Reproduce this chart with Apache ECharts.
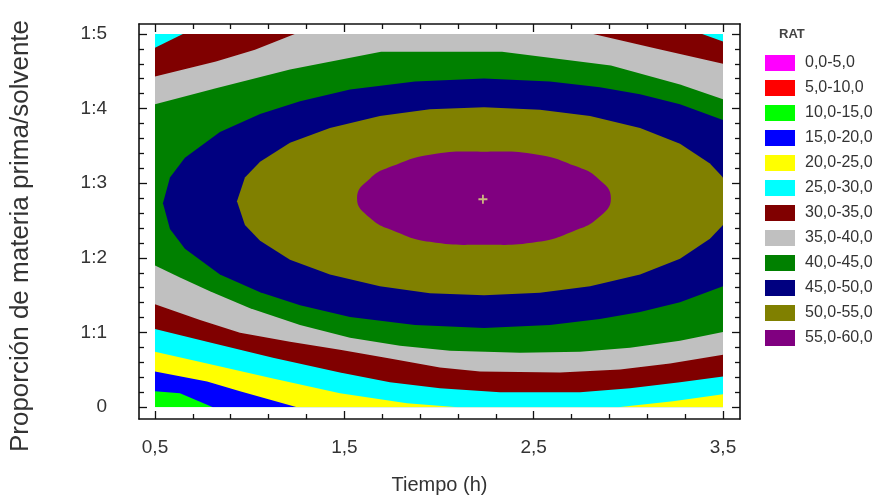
<!DOCTYPE html>
<html>
<head>
<meta charset="utf-8">
<script src="https://cdn.jsdelivr.net/npm/echarts@6/dist/echarts.min.js"></script>
<style>
html,body{margin:0;padding:0;background:#fff;}
#chart{width:889px;height:500px;}
</style>
</head>
<body>
<div id="chart"></div>
<script>
// ---------- data ----------
const bandLabels = ['0,0-5,0','5,0-10,0','10,0-15,0','15,0-20,0','20,0-25,0','25,0-30,0','30,0-35,0','35,0-40,0','40,0-45,0','45,0-50,0','50,0-55,0','55,0-60,0'];
const bandMins = [0,5,10,15,20,25,30,35,40,45,50,55];
const bandColors = ['#ff00ff','#ff0000','#00ff00','#0000ff','#ffff00','#00ffff','#800000','#c0c0c0','#008000','#000080','#808000','#800080'];

const xTickValues = [0.5,1.5,2.5,3.5];
const xTickLabels = ['0,5','1,5','2,5','3,5'];
const xMinorTicks = [0.7,0.9,1.1,1.3,1.7,1.9,2.1,2.3,2.7,2.9,3.1,3.3];
const yTickValues = [0,1,2,3,4,5];
const yTickLabels = ['0','1:1','1:2','1:3','1:4','1:5'];
const yMinorTicks = [0.2,0.4,0.6,0.8,1.2,1.4,1.6,1.8,2.2,2.4,2.6,2.8,3.2,3.4,3.6,3.8,4.2,4.4,4.6,4.8];

// regions where RAT exceeds each level as (Tiempo, Proporción) points
const above10 = [[0.5,0],[3.5,0],[3.5,5],[0.5,5]];
const above15 = [[0.5,0.212],[0.632,0.186],[0.806,0],[3.5,0],[3.5,5],[0.5,5]];
const above20 = [[0.5,0.477],[0.775,0.345],[0.949,0.212],[1.25,0],[3.5,0],[3.5,5],[0.5,5]];
const above25 = [[0.5,0.743],[0.775,0.584],[1.123,0.385],[1.477,0.186],[1.831,0.053],[2.1,0],[2.945,0],[3.236,0.08],[3.5,0.172],[3.5,5],[0.5,5]];
const above30 = [[0.5,1.048],[0.775,0.875],[1.123,0.663],[1.477,0.464],[1.741,0.332],[2.005,0.252],[2.322,0.199],[2.745,0.199],[3.009,0.252],[3.273,0.332],[3.5,0.411],[3.5,4.9],[3.389,5],[0.648,5],[0.5,4.814]];
const above35 = [[0.5,4.43],[0.822,4.629],[1.028,4.788],[1.239,5],[2.813,5],[3.151,4.801],[3.5,4.6],[3.5,0.703],[3.22,0.584],[2.956,0.504],[2.639,0.464],[2.217,0.477],[2.005,0.53],[1.741,0.65],[1.477,0.769],[1.213,0.875],[0.949,0.995],[0.738,1.167],[0.5,1.379]];
const above40 = [[0.5,4.058],[0.822,4.271],[1.213,4.523],[1.694,4.761],[2.333,4.761],[2.908,4.576],[3.273,4.324],[3.5,4.125],[3.5,1.008],[3.273,0.889],[3.009,0.796],[2.745,0.743],[2.428,0.729],[2.058,0.756],[1.794,0.822],[1.53,0.928],[1.266,1.101],[1.002,1.326],[0.79,1.552],[0.632,1.737],[0.5,1.897]];
const above45 = [[0.542,2.732],[0.579,3.077],[0.658,3.342],[0.843,3.687],[1.055,3.926],[1.266,4.098],[1.53,4.257],[1.873,4.363],[2.238,4.403],[2.586,4.363],[2.85,4.284],[3.062,4.191],[3.273,4.058],[3.5,3.846],[3.5,1.618],[3.273,1.406],[3.062,1.273],[2.85,1.18],[2.586,1.101],[2.238,1.061],[1.873,1.101],[1.53,1.207],[1.266,1.366],[1.055,1.538],[0.843,1.777],[0.658,2.122],[0.579,2.387]];
const above50 = [[0.933,2.759],[0.975,3.077],[1.055,3.289],[1.213,3.541],[1.424,3.74],[1.688,3.899],[1.952,3.992],[2.238,4.019],[2.533,3.985],[2.798,3.899],[3.062,3.74],[3.273,3.528],[3.431,3.263],[3.5,3.077],[3.5,2.44],[3.431,2.255],[3.273,1.989],[3.062,1.777],[2.798,1.618],[2.533,1.532],[2.238,1.499],[1.952,1.525],[1.688,1.618],[1.424,1.777],[1.213,1.976],[1.055,2.228],[0.975,2.44]];
const above55 = [[1.567,2.798],[1.636,3.064],[1.762,3.236],[1.952,3.382],[2.238,3.422],[2.523,3.382],[2.713,3.236],[2.84,3.064],[2.908,2.798],[2.84,2.533],[2.713,2.361],[2.523,2.215],[2.238,2.175],[1.952,2.215],[1.762,2.361],[1.636,2.533]];

const regionPolys = [above10, above15, above20, above25, above30, above35, above40, above45, above50, above55];
const regionLevels = [10, 15, 20, 25, 30, 35, 40, 45, 50, 55];
const regionSmooth = [0, 0, 0, 0, 0, 0, 0, 0, 0, 0.5];
const dataArea = [[0.5, 0], [3.5, 5]];
const optimumPoint = [2.232, 2.785];

// ---------- chart ----------
const chart = echarts.init(document.getElementById('chart'), null, {renderer:'canvas'});
const X_MIN = 0.4155, X_MAX = 3.5898, Y_MIN = -0.159, Y_MAX = 5.133;
const FONT = 'Liberation Sans, Arial, sans-serif';
const TXT = '#333333';

function xAxisDef(pos, ticks, len, showLine, showLabel) {
  return {
    type:'value', position:pos, min:X_MIN, max:X_MAX,
    axisLine:{show:showLine, onZero:false, lineStyle:{color:'#111', width:1.6}},
    axisTick:{show:true, inside:true, length:len, customValues:ticks, lineStyle:{color:'#111', width:1.3}},
    axisLabel:{show:showLabel, customValues:xTickValues, margin:19, color:TXT, fontFamily:FONT, fontSize:19,
      formatter:function(v){ const i = xTickValues.findIndex(t=>Math.abs(t-v)<1e-6); return i>=0? xTickLabels[i]:''; }},
    splitLine:{show:false}
  };
}
function yAxisDef(pos, ticks, len, showLine, showLabel) {
  return {
    type:'value', position:pos, min:Y_MIN, max:Y_MAX,
    axisLine:{show:showLine, onZero:false, lineStyle:{color:'#111', width:1.6}},
    axisTick:{show:true, inside:true, length:len, customValues:ticks, lineStyle:{color:'#111', width:1.3}},
    axisLabel:{show:showLabel, customValues:yTickValues, margin:32, color:TXT, fontFamily:FONT, fontSize:19,
      padding:[5,0,0,0],
      formatter:function(v){ const i = yTickValues.findIndex(t=>Math.abs(t-v)<1e-6); return i>=0? yTickLabels[i]:''; }},
    splitLine:{show:false}
  };
}

const xAxes = [
  xAxisDef('bottom', xTickValues, 8, true, true),
  xAxisDef('bottom', xMinorTicks, 5, false, false),
  xAxisDef('top', xTickValues, 8, true, false),
  xAxisDef('top', xMinorTicks, 5, false, false)
];
xAxes[0].name = 'Tiempo (h)';
xAxes[0].nameLocation = 'middle';
xAxes[0].nameGap = 56;
xAxes[0].nameTextStyle = {color:TXT, fontFamily:FONT, fontSize:20};

const yAxes = [
  yAxisDef('left', yTickValues, 8, true, true),
  yAxisDef('left', yMinorTicks, 5, false, false),
  yAxisDef('right', yTickValues, 8, true, false),
  yAxisDef('right', yMinorTicks, 5, false, false)
];

const regionData = regionPolys.map((p, i) => [0.5, 0, regionLevels[i] + 2.5, i]);

const option = {
  animation:false,
  backgroundColor:'#ffffff',
  title:{text:'RAT', left:779, top:28, padding:0, textStyle:{fontFamily:FONT, fontSize:13, fontWeight:'bold', color:'#444'}},
  graphic:[{
    type:'text', x:21, y:236, rotation:Math.PI/2, silent:true,
    style:{text:'Proporción de materia prima/solvente', fill:TXT, font:'26px Liberation Sans, Arial, sans-serif',
           textAlign:'center', textVerticalAlign:'middle'}
  }],
  grid:{left:139, top:24, width:601, height:399, containLabel:false},
  xAxis:xAxes,
  yAxis:yAxes,
  visualMap:{
    type:'piecewise', dimension:2, seriesIndex:0,
    orient:'vertical', inverse:true, align:'left',
    left:765, top:55, padding:0,
    itemWidth:30, itemHeight:16, itemGap:9, itemSymbol:'rect', textGap:10,
    selectedMode:false, hoverLink:false,
    textStyle:{color:TXT, fontFamily:FONT, fontSize:16},
    pieces: bandLabels.map((lab, i) => ({min:bandMins[i], max:bandMins[i]+5, label:lab, color:bandColors[i]}))
  },
  series:[
    {
      type:'custom', xAxisIndex:0, yAxisIndex:0, clip:true, silent:true,
      encode:{x:0, y:1},
      data:regionData,
      renderItem:function(params, api){
        const idx = api.value(3);
        const poly = regionPolys[idx];
        const tl = api.coord([dataArea[0][0], dataArea[1][1]]);
        const br = api.coord([dataArea[1][0], dataArea[0][1]]);
        return {type:'polygon', shape:{points:poly.map(p => api.coord(p)), smooth:regionSmooth[idx]},
                style:{fill:api.visual('color'), stroke:null},
                clipPath:{type:'rect', shape:{x:tl[0], y:tl[1], width:br[0]-tl[0], height:br[1]-tl[1]}}};
      }
    },
    {
      type:'scatter', xAxisIndex:0, yAxisIndex:0, silent:true,
      symbol:'path://M4,0h2v4h4v2h-4v4h-2v-4h-4v-2h4z', symbolSize:9,
      itemStyle:{color:'#dfe680'},
      data:[optimumPoint], z:5
    }
  ]
};
chart.setOption(option);
</script>
</body>
</html>
